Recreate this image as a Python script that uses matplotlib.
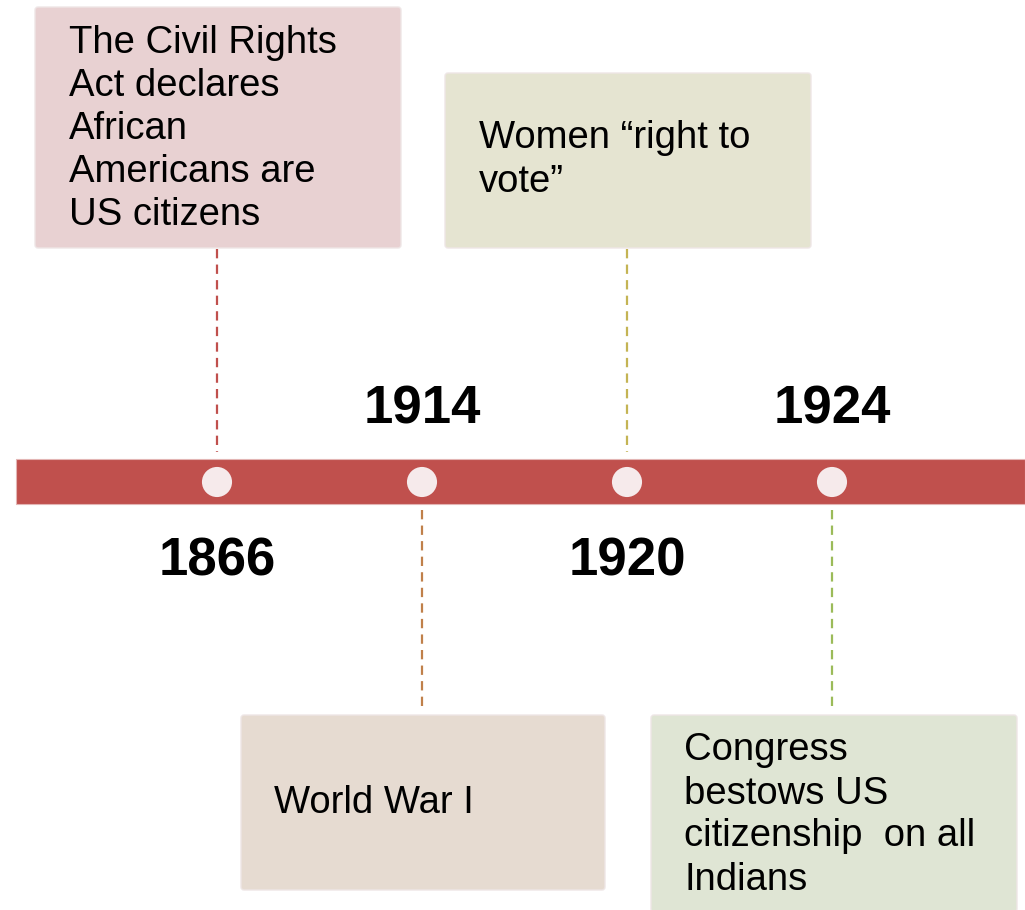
import matplotlib
matplotlib.use("Agg")
import matplotlib.pyplot as plt
from matplotlib.patches import FancyBboxPatch, Rectangle

# timeline content
years = ["1866", "1914", "1920", "1924"]
events = [
    "The Civil Rights\nAct declares\nAfrican\nAmericans are\nUS citizens",
    "World War I",
    "Women \u201cright to\nvote\u201d",
    "Congress\nbestows US\ncitizenship  on all\nIndians",
]
box_colors = ["#E8D1D2", "#E6DBD1", "#E5E4D1", "#DFE5D4"]
line_colors = ["#C0504D", "#C0804A", "#C4B454", "#9BBB59"]

# layout (pixel space, y grows downward)
W, H = 1025, 910
dot_x0, dot_dx = 217, 205
bar_top, bar_bot = 459, 504
bar_y = (bar_top + bar_bot) / 2
# box: left, top, right, bottom
boxes = [(35, 7, 401, 248), (241, 715, 605, 890), (445, 73, 811, 248), (651, 715, 1017, 912)]
text_pos = [(69, 129), (274, 803), (479, 160), (684, 815)]
above = [True, False, True, False]

fig = plt.figure(figsize=(W / 100, H / 100), dpi=100)
ax = fig.add_axes([0, 0, 1, 1])
ax.set_xlim(0, W)
ax.set_ylim(H, 0)
ax.axis("off")

font = "Liberation Sans"

# bar
ax.add_patch(Rectangle((16, bar_top), W - 16, bar_bot - bar_top,
                       facecolor="#C0504D", edgecolor="#E3B5B4", lw=0.8, zorder=2))

xs = [dot_x0 + i * dot_dx for i in range(len(years))]
ax.scatter(xs, [bar_y + 0.5] * len(xs), s=470, color="#F6EAEB", edgecolors="none", zorder=3)

for i, (yr, ev) in enumerate(zip(years, events)):
    x = xs[i]
    l, t, r, b = boxes[i]
    ax.add_patch(FancyBboxPatch((l, t), r - l, b - t,
                                boxstyle="round,pad=0,rounding_size=3",
                                facecolor=box_colors[i], edgecolor="#EEE6E6",
                                lw=1.0, zorder=2))
    tx, ty = text_pos[i]
    ax.text(tx, ty, ev, fontsize=27.5, family=font, color="black",
            ha="left", va="center", linespacing=1.25, zorder=4)
    if above[i]:
        ax.plot([x, x], [b + 1, bar_top - 7], color=line_colors[i], lw=1.6,
                ls=(0, (4.2, 2.8)), zorder=1)
        ax.text(x, 561, yr, fontsize=38, fontweight="bold", family=font,
                ha="center", va="center", zorder=4)
    else:
        ax.plot([x, x], [bar_bot + 6, t - 3], color=line_colors[i], lw=1.6,
                ls=(0, (4.2, 2.8)), zorder=1)
        ax.text(x, 410, yr, fontsize=38, fontweight="bold", family=font,
                ha="center", va="center", zorder=4)

fig.savefig("out.png", dpi=100, facecolor="white")
